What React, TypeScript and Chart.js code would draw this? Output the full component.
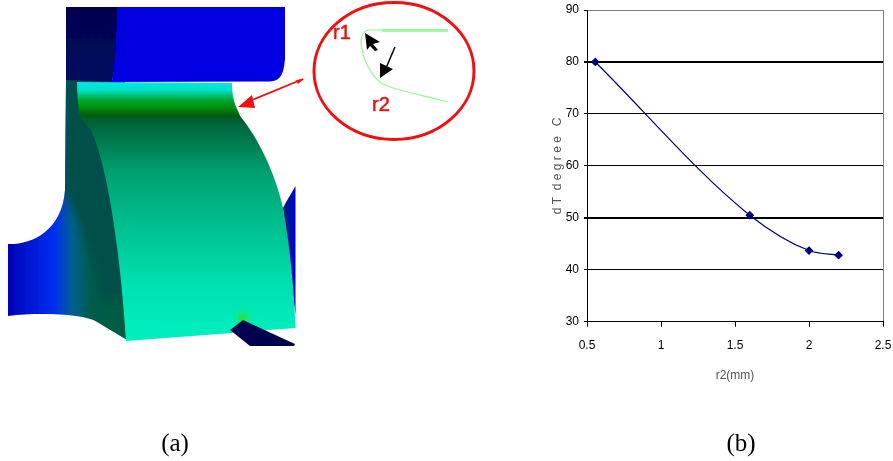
import React, { useEffect, useRef } from "react";
import { Chart, registerables } from "chart.js";

Chart.register(...registerables);

const r2Values = [0.556, 1.6, 2.0, 2.2];
const dTValues = [80, 50.5, 43.7, 42.8];
const xTicks = [0.5, 1, 1.5, 2, 2.5];
const yTicks = [30, 40, 50, 60, 70, 80, 90];
const heavyLines = [50, 80];
const xTitle = "r2(mm)";
const yTitle = "d T  d e g r e e   C";
const captions = ["(a)", "(b)"];
const calloutLabels = ["r1", "r2"];

const tickFont = { family: "'Liberation Sans', sans-serif", size: 12 };

const platePath = "M8 244 C30 245 62 232 65 190 L66 80 L125 80 L127 340 L97 322 C85 314 40 312 8 316 Z";

function Illustration() {
  return (
    <svg width={893} height={461} style={{ position: "absolute", left: 0, top: 0 }}>
      <defs>
        <linearGradient id="plate" x1="8" x2="125" y1="0" y2="0" gradientUnits="userSpaceOnUse">
          <stop offset="0" stopColor="#0000b8" />
          <stop offset="0.4" stopColor="#0030f0" />
          <stop offset="0.55" stopColor="#005f90" />
          <stop offset="0.72" stopColor="#005c48" />
          <stop offset="1" stopColor="#005c40" />
        </linearGradient>
        <linearGradient id="blockDark" x1="0" x2="0" y1="7" y2="85" gradientUnits="userSpaceOnUse">
          <stop offset="0" stopColor="#00004f" />
          <stop offset="1" stopColor="#001060" />
        </linearGradient>
        <linearGradient id="band" x1="0" x2="0" y1="82" y2="122" gradientUnits="userSpaceOnUse">
          <stop offset="0" stopColor="#00e8e8" />
          <stop offset="0.2" stopColor="#00e0c8" />
          <stop offset="0.45" stopColor="#00a830" />
          <stop offset="0.62" stopColor="#009010" />
          <stop offset="0.85" stopColor="#005a10" />
          <stop offset="1" stopColor="#005a30" />
        </linearGradient>
        <linearGradient id="face" x1="0" x2="0" y1="116" y2="340" gradientUnits="userSpaceOnUse">
          <stop offset="0" stopColor="#005a30" />
          <stop offset="0.25" stopColor="#00a070" />
          <stop offset="0.5" stopColor="#00c090" />
          <stop offset="0.75" stopColor="#00e0b0" />
          <stop offset="1" stopColor="#00f0c0" />
        </linearGradient>
        <linearGradient id="sliver" x1="283" x2="296" y1="0" y2="0" gradientUnits="userSpaceOnUse">
          <stop offset="0" stopColor="#00206a" />
          <stop offset="1" stopColor="#0000e0" />
        </linearGradient>
        <radialGradient id="glow" cx="243" cy="318" r="13" gradientUnits="userSpaceOnUse">
          <stop offset="0" stopColor="#30e020" />
          <stop offset="1" stopColor="#00f0c0" stopOpacity="0" />
        </radialGradient>
        <filter id="soft"><feGaussianBlur stdDeviation="0.6" /></filter>
        <filter id="wide" x="-80%" y="-20%" width="260%" height="140%"><feGaussianBlur stdDeviation="5" /></filter>
        <clipPath id="plateClip"><path d={platePath} /></clipPath>
      </defs>
      <g filter="url(#soft)">
        <path d={platePath} fill="url(#plate)" />
        <g clipPath="url(#plateClip)">
          <path d="M62 70 L130 70 L130 300 L100 300 C95 260 80 220 62 190 Z" fill="#005048" filter="url(#wide)" />
        </g>
        <path d="M66 7 L118 7 L116 60 L112 82 L66 80 Z" fill="url(#blockDark)" />
        <path d="M117 7 L285 7 L285 58 C284 75 280 81 270 81.500 L112 82 C115 60 117 40 117 7 Z" fill="#0000e0" />
        <path d="M283 208 C287 200 291 194 295.500 186 L295.500 315 L290 270 Z" fill="url(#sliver)" />
        <path d="M80 117 L240 116 C258 137 276 175 283 208 C289 240 294 285 295.500 328 L126 341 C120 250 108 170 92 132 Z" fill="url(#face)" />
        <path d="M77 82 L232 83 C232 95 234 103 238 111 L241 118 L80 118 C78 106 77 95 77 82 Z" fill="url(#band)" />
        <circle cx="243" cy="318" r="13" fill="url(#glow)" />
        <path d="M230 330 L243 320 L295 344 L294 346 L250 346 Z" fill="#00004f" />
      </g>
      <ellipse cx="394" cy="71" rx="80" ry="68.500" fill="none" stroke="#f01010" strokeWidth="3" />
      <path d="M303 79 L252 100" stroke="#f01010" strokeWidth="1.800" fill="none" />
      <path d="M238 107 L252 95 L255 108 Z" fill="#f01010" />
      <path d="M304 79 L296 80 L298 84 Z" fill="#f01010" />
      <path d="M448 30 L370 30 C364 30 361 35 361 42 C362 58 370 74 380 82 C388 88 400 90 448 102" fill="none" stroke="#90f890" strokeWidth="1.200" />
      <path d="M382 30.500 L448 30.500" stroke="#90f890" strokeWidth="2.500" />
      <path d="M365 33 L380 42 L373 44 L378 50 L375 51 L370 46 L367 50 Z" fill="#000" />
      <path d="M395 47 L386 68" stroke="#000" strokeWidth="1.500" />
      <path d="M380 78 L380 63 L393 69 Z" fill="#000" />
      <text x="333" y="39" fontFamily="'Liberation Sans', sans-serif" fontSize="20" fill="#e81010" stroke="#e81010" strokeWidth="0.500">{calloutLabels[0]}</text>
      <text x="372" y="111" fontFamily="'Liberation Sans', sans-serif" fontSize="20" fill="#e81010" stroke="#e81010" strokeWidth="0.500">{calloutLabels[1]}</text>
      <text x="175" y="451" textAnchor="middle" fontFamily="'Liberation Serif', serif" fontSize="25" fill="#000">{captions[0]}</text>
      <text x="741" y="451" textAnchor="middle" fontFamily="'Liberation Serif', serif" fontSize="25" fill="#000">{captions[1]}</text>
    </svg>
  );
}

export default function App() {
  const ref = useRef<HTMLCanvasElement | null>(null);

  useEffect(() => {
    if (!ref.current) return;
    const chart = new Chart(ref.current, {
      type: "line",
      data: {
        datasets: [
          {
            data: r2Values.map((x, i) => ({ x, y: dTValues[i] })),
            borderColor: "#000080",
            backgroundColor: "#000080",
            borderWidth: 1.2,
            pointStyle: "rectRot",
            pointRadius: 3.5,
            cubicInterpolationMode: "monotone",
          },
        ],
      },
      options: {
        animation: false,
        responsive: false,
        layout: { padding: { left: 550, right: 10, top: 10, bottom: 78.5 } },
        plugins: { legend: { display: false }, tooltip: { enabled: false } },
        scales: {
          x: {
            type: "linear",
            min: 0.5,
            max: 2.5,
            afterBuildTicks: (s: any) => {
              s.ticks = xTicks.map((value) => ({ value }));
            },
            afterFit: (s: any) => {
              s.paddingLeft = 0;
              s.paddingRight = 0;
            },
            ticks: {
              color: "#000",
              font: tickFont,
              padding: 12,
              maxRotation: 0,
              callback: (v: any) => String(v),
            },
            grid: {
              color: (c: any) => (c.tick && c.tick.value === 2.5 ? "#808080" : "rgba(0,0,0,0)"),
              tickColor: "#000",
              tickLength: 5,
              lineWidth: 1,
            },
            border: { color: "#000", width: 1 },
            title: { display: true, text: xTitle, color: "#555", font: tickFont, padding: { top: 3, bottom: 0 } },
          },
          y: {
            type: "linear",
            min: 30,
            max: 90,
            afterBuildTicks: (s: any) => {
              s.ticks = yTicks.map((value) => ({ value }));
            },
            afterFit: (s: any) => {
              s.width = 37;
              s.paddingTop = 0;
              s.paddingBottom = 0;
            },
            ticks: { color: "#000", font: tickFont, padding: 5 },
            grid: {
              color: (c: any) => (c.tick && c.tick.value === 90 ? "#808080" : "#000"),
              lineWidth: (c: any) => (c.tick && heavyLines.includes(c.tick.value) ? 2 : 1),
              tickColor: "#000",
              tickLength: 3,
            },
            border: { color: "#000", width: 1 },
            title: { display: true, text: yTitle, color: "#555", font: tickFont, padding: 0 },
          },
        },
      },
    } as any);
    return () => chart.destroy();
  }, []);

  return (
    <div style={{ position: "absolute", left: 0, top: 0, width: 893, height: 461, background: "#fff" }}>
      <canvas ref={ref} width={893} height={461} style={{ position: "absolute", left: 0, top: 0, display: "block" }} />
      <Illustration />
    </div>
  );
}
